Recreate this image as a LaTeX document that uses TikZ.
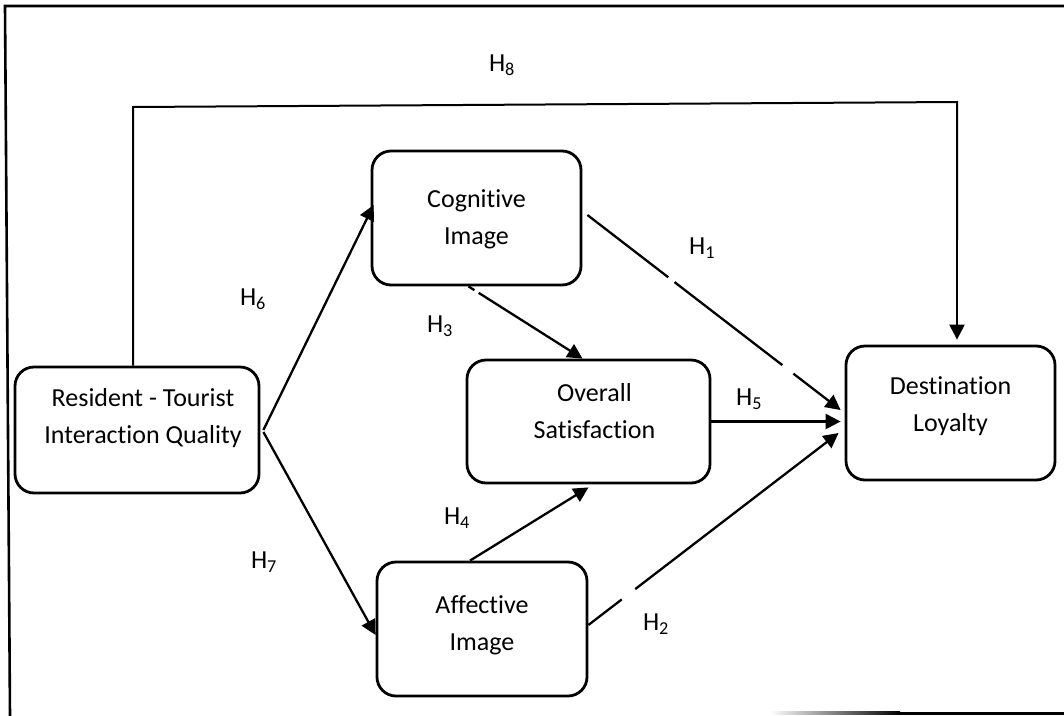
\documentclass[tikz,border=0pt]{standalone}
\usepackage{fontspec}
\setmainfont{Carlito}[Ligatures=NoCommon]
\usetikzlibrary{arrows.meta,calc}
\begin{document}
\begin{tikzpicture}[x=1pt,y=-1pt,
  every node/.style={inner sep=0pt},
  box/.style={draw, line width=2.8pt, rounded corners=19pt},
  lbl/.style={align=center, font=\fontsize{26}{37}\selectfont},
  hyp/.style={font=\fontsize{26}{31}\selectfont},
  arr/.style={line width=2.3pt, -{Triangle[length=15pt,width=15pt]}},
  frameline/.style={line width=2.6pt},
]
\useasboundingbox (0,0) rectangle (1064,715);
% frame
\draw[frameline] (10,716) -- (5,6) -- (1064,6);
\shade[left color=white, right color=black] (770,711.5) rectangle (900,714.5);
\fill (900,711.5) rectangle (1064,714.5);

% boxes
\node[box, minimum width=244pt, minimum height=126pt,
  label={[lbl, name=rtiqt, xshift=6pt, yshift=12pt]center:Resident - Tourist\\Interaction Quality}] (rtiq) at (137,430) {};
\node[box, minimum width=209pt, minimum height=134pt,
  label={[lbl, name=cit, yshift=-1pt]center:Cognitive\\Image}] (ci) at (476.5,218) {};
\node[box, minimum width=243pt, minimum height=123pt,
  label={[lbl, name=ost, xshift=6pt, yshift=10pt]center:Overall\\Satisfaction}] (os) at (588.5,421.5) {};
\node[box, minimum width=210pt, minimum height=134pt,
  label={[lbl, name=ait, yshift=3.5pt]center:Affective\\Image}] (ai) at (482,629) {};
\node[box, minimum width=209pt, minimum height=134pt,
  label={[lbl, name=dlt, yshift=6.5pt]center:Destination\\Loyalty}] (dl) at (950.5,413) {};

% hypothesis labels
\node[hyp] (h8) at (502,65) {H\textsubscript{8}};
\node[hyp] (h6) at (253,299) {H\textsubscript{6}};
\node[hyp] (h3) at (440,326) {H\textsubscript{3}};
\node[hyp] (h1) at (702,248) {H\textsubscript{1}};
\node[hyp] (h5) at (749,399) {H\textsubscript{5}};
\node[hyp] (h4) at (457,518) {H\textsubscript{4}};
\node[hyp] (h7) at (264,562) {H\textsubscript{7}};
\node[hyp] (h2) at (656,624) {H\textsubscript{2}};

% H8 connector
\coordinate (c1) at (133,107);
\coordinate (c2) at (957,102);
\coordinate (c3) at (957,240);
\draw[line width=2pt] (c1 |- rtiq.north) -- (c1) -- (c2) -- (c3);
\draw[arr] (c3) -- ($(c2 |- dl.north)+(0,-5)$);

% other connectors
\draw[arr] ([xshift=3pt]rtiq.east) -- ([xshift=3pt,yshift=13pt]ci.west); % H6
\draw[arr] ([xshift=3pt,yshift=-2pt]rtiq.east) -- ([yshift=-6pt]ai.west); % H7
\draw[arr, dash pattern=on 7pt off 5pt on 300pt] ([xshift=-8pt]ci.south) -- ([xshift=-6pt]os.north); % H3
\draw[arr] ([xshift=-12pt]ai.north) -- ([yshift=-3pt]os.south); % H4
\draw[arr, dash pattern=on 102pt off 8pt on 136pt off 14pt on 300pt] ([xshift=5pt,yshift=3pt]ci.east) -- ([xshift=-4pt,yshift=3pt]dl.west); % H1
\draw[arr] (os.east) -- ($(dl.west |- os.east)+(-4,0)$); % H5
\draw[arr, dash pattern=on 42pt off 17pt on 400pt] ([yshift=4pt]ai.east) -- ([xshift=-6pt,yshift=-20pt]dl.west); % H2
\end{tikzpicture}
\end{document}
